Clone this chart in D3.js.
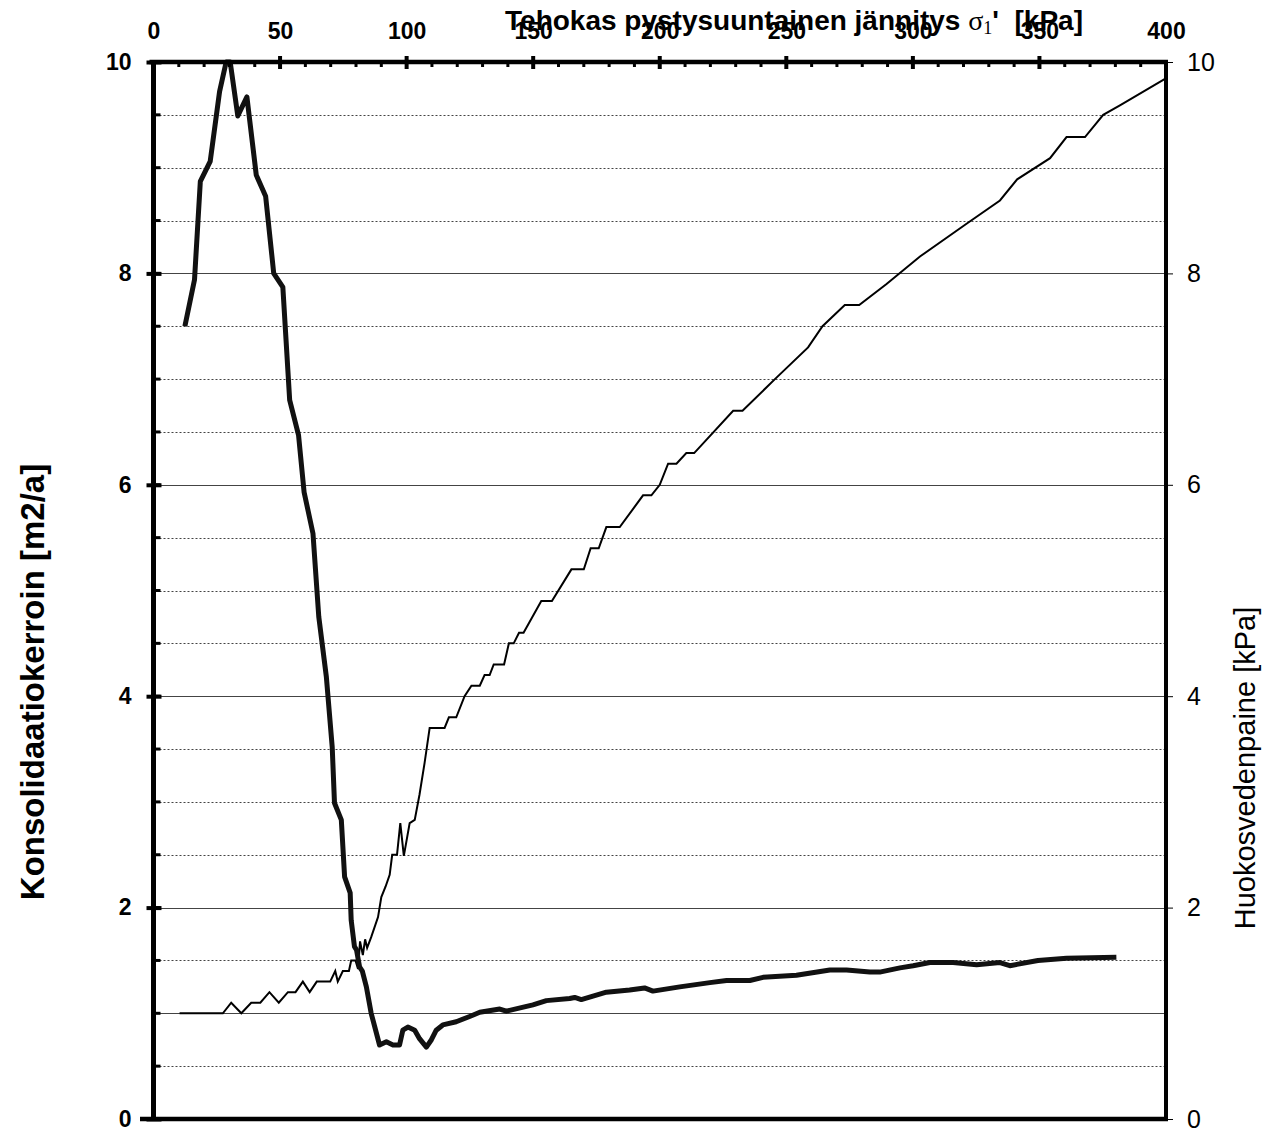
<!DOCTYPE html>
<html>
<head>
<meta charset="utf-8">
<script src="https://cdn.jsdelivr.net/npm/d3@7"></script>
<style>
  html, body { margin: 0; padding: 0; background: #fff; }
  svg { display: block; }
</style>
</head>
<body>
<svg id="chart" width="1270" height="1133"></svg>
<script>
// ---- data ----
const xTickValues = [0, 50, 100, 150, 200, 250, 300, 350, 400];
const yTickValues = [0, 2, 4, 6, 8, 10];
const solidGridValues = [1, 2, 4, 6, 8];

// Konsolidaatiokerroin (thick line)
const cvStress = [12.4, 16.2, 18.5, 22.4, 26.1, 28.7, 30.3, 33.3, 36.9, 40.6, 44.3, 47.5, 51.1, 53.8, 57.3, 59.5, 63, 65.3, 68.3, 70.6, 71.5, 74.2, 75.5, 77.7, 78.1, 79.4, 80.2, 81.4, 82.5, 84.1, 86, 89.3, 92, 94.6, 97.2, 98.5, 100.5, 103.2, 105.1, 107.8, 109.8, 111.7, 114.3, 119.6, 124.9, 128.9, 136.8, 139.4, 149.9, 155.2, 164.4, 166.4, 169, 178.9, 188.1, 194, 197.3, 207.9, 219.8, 226.4, 235.6, 240.8, 254, 267.2, 273.8, 283, 286.9, 294.9, 300.1, 306.7, 315.9, 325.2, 334.4, 338.3, 349.4, 360.7, 380.4];
const cvValues = [7.50, 7.94, 8.87, 9.06, 9.72, 10.0, 10.0, 9.49, 9.67, 8.93, 8.73, 8.0, 7.87, 6.80, 6.47, 5.93, 5.54, 4.75, 4.18, 3.52, 2.99, 2.83, 2.29, 2.14, 1.88, 1.63, 1.60, 1.44, 1.40, 1.25, 1.0, 0.70, 0.73, 0.70, 0.70, 0.84, 0.87, 0.84, 0.76, 0.68, 0.75, 0.84, 0.89, 0.92, 0.97, 1.01, 1.04, 1.02, 1.08, 1.12, 1.14, 1.15, 1.13, 1.20, 1.22, 1.24, 1.21, 1.25, 1.29, 1.31, 1.31, 1.34, 1.36, 1.41, 1.41, 1.39, 1.39, 1.43, 1.45, 1.48, 1.48, 1.46, 1.48, 1.45, 1.50, 1.52, 1.53];

// Huokosvedenpaine (thin line)
const uStress = [10.3, 27.4, 30.7, 34.7, 38.6, 42.2, 45.8, 49.5, 53.1, 56.1, 59, 61.7, 64.5, 69.8, 71.8, 72.8, 74.8, 77.2, 78.1, 79.8, 80.8, 81.6, 82.7, 83.6, 84.4, 86, 88.7, 90, 91.7, 93.3, 94.3, 96.2, 97.5, 98.9, 101.2, 103.2, 105.1, 107.1, 109.1, 115, 116.7, 119.6, 122.9, 125.6, 128.9, 130.8, 132.8, 134.4, 138.5, 140.4, 142.3, 144.4, 146.2, 153.2, 157.4, 165.1, 170, 172.7, 175.9, 178.9, 184.2, 193.4, 196.7, 200, 203.3, 206.6, 210.5, 213.6, 229, 232.7, 245.5, 258.6, 264.3, 273.1, 278.8, 289.6, 302.8, 321.2, 334.4, 341.2, 354.2, 360.7, 368, 375.2, 381.8, 399.6];
const uValues = [1.0, 1.0, 1.1, 1.0, 1.1, 1.1, 1.2, 1.1, 1.2, 1.2, 1.3, 1.2, 1.3, 1.3, 1.4, 1.3, 1.4, 1.4, 1.5, 1.5, 1.42, 1.68, 1.55, 1.7, 1.62, 1.72, 1.91, 2.10, 2.20, 2.31, 2.50, 2.50, 2.80, 2.49, 2.80, 2.83, 3.07, 3.37, 3.70, 3.70, 3.80, 3.80, 4.0, 4.1, 4.1, 4.2, 4.2, 4.3, 4.3, 4.5, 4.5, 4.6, 4.6, 4.9, 4.9, 5.2, 5.2, 5.4, 5.4, 5.6, 5.6, 5.9, 5.9, 6.0, 6.2, 6.2, 6.3, 6.3, 6.7, 6.7, 7.0, 7.3, 7.5, 7.7, 7.7, 7.9, 8.16, 8.47, 8.69, 8.89, 9.09, 9.29, 9.29, 9.50, 9.59, 9.84];

const topTitle = "Tehokas pystysuuntainen jännitys ";
const leftTitle = "Konsolidaatiokerroin [m2/a]";
const rightTitle = "Huokosvedenpaine [kPa]";

// ---- chart ----
(function draw() {
const svg = d3.select("#chart");
const pLeft = 153.5, pRight = 1166, pTop = 62, pBottom = 1119;
const x = d3.scaleLinear().domain([0, 400]).range([pLeft, pRight]);
const yL = d3.scaleLinear().domain([0, 10]).range([pBottom, pTop]);
const yR = d3.scaleLinear().domain([0, 10]).range([pBottom, pTop]);
const sans = "'Liberation Sans', Arial, sans-serif";
const serif = "'Liberation Serif', 'Times New Roman', serif";

// grid lines every 0.5
const gridVals = d3.range(0.5, 10, 0.5);
svg.append("g").selectAll("line").data(gridVals).join("line")
  .attr("x1", pLeft + 2).attr("x2", pRight - 2)
  .attr("y1", d => Math.round(yL(d)) + 0.5).attr("y2", d => Math.round(yL(d)) + 0.5)
  .attr("stroke", "#444")
  .attr("stroke-width", d => solidGridValues.includes(d) ? 1.2 : 1)
  .attr("stroke-dasharray", d => solidGridValues.includes(d) ? null : "2,2");

// series lines
const line = d3.line().x(d => x(d[0])).y(d => d[2](d[1])).curve(d3.curveLinear);
const uData = uStress.map((s, i) => [s, uValues[i], yR]);
const cvData = cvStress.map((s, i) => [s, cvValues[i], yL]);

svg.append("path").datum(uData).attr("d", line)
  .attr("fill", "none").attr("stroke", "#000").attr("stroke-width", 2)
  .attr("stroke-linejoin", "miter");
svg.append("path").datum(cvData).attr("d", line)
  .attr("fill", "none").attr("stroke", "#111").attr("stroke-width", 5)
  .attr("stroke-linejoin", "round");

// bottom axis line
svg.append("line").attr("x1", 140).attr("x2", pRight + 2)
  .attr("y1", pBottom).attr("y2", pBottom).attr("stroke", "#000").attr("stroke-width", 4.5);

// right axis
const rightAxis = d3.axisRight(yR).tickValues(yTickValues).tickSize(7).tickPadding(14)
  .tickFormat(d3.format("d"));
const gR = svg.append("g").attr("transform", `translate(${pRight},0)`).call(rightAxis);
gR.select(".domain").remove();
gR.selectAll(".tick line").attr("stroke", "#000").attr("stroke-width", 1);
gR.selectAll(".tick text").attr("font-family", sans).attr("font-size", 25).attr("fill", "#000");
svg.append("line").attr("x1", pRight).attr("x2", pRight).attr("y1", pTop - 2).attr("y2", pBottom + 2)
  .attr("stroke", "#000").attr("stroke-width", 4);

// left axis
const leftAxis = d3.axisLeft(yL).tickValues(yTickValues).tickSize(7).tickPadding(15)
  .tickFormat(d3.format("d"));
const gL = svg.append("g").attr("transform", `translate(${pLeft},0)`).call(leftAxis);
gL.select(".domain").remove();
gL.selectAll(".tick line").attr("stroke", "#000").attr("stroke-width", 4).attr("x2", -7).attr("x1", 8);
gL.selectAll(".tick text").attr("font-family", sans).attr("font-weight", "bold")
  .attr("font-size", 23).attr("fill", "#000");
// minor ticks left
svg.append("g").selectAll("line").data(gridVals).join("line")
  .attr("x1", pLeft).attr("x2", pLeft + 7)
  .attr("y1", d => yL(d)).attr("y2", d => yL(d))
  .attr("stroke", "#000").attr("stroke-width", 3);
svg.append("line").attr("x1", pLeft).attr("x2", pLeft).attr("y1", pTop - 2).attr("y2", pBottom + 2)
  .attr("stroke", "#000").attr("stroke-width", 5);

// top axis
const topAxis = d3.axisTop(x).tickValues(xTickValues).tickSize(0).tickPadding(23)
  .tickFormat(d3.format("d"));
const gT = svg.append("g").attr("transform", `translate(0,${pTop})`).call(topAxis);
gT.select(".domain").remove();
gT.selectAll(".tick text").attr("font-family", sans).attr("font-weight", "bold")
  .attr("font-size", 23).attr("fill", "#000");
svg.append("line").attr("x1", pLeft - 4).attr("x2", pRight + 2).attr("y1", pTop).attr("y2", pTop)
  .attr("stroke", "#000").attr("stroke-width", 4.5);
// major ticks top
svg.append("g").selectAll("line").data(xTickValues.slice(1, -1)).join("line")
  .attr("x1", d => x(d)).attr("x2", d => x(d)).attr("y1", pTop - 6).attr("y2", pTop + 7)
  .attr("stroke", "#000").attr("stroke-width", 4);
// minor ticks top
const minorX = d3.range(10, 400, 10).filter(v => v % 50 !== 0);
svg.append("g").selectAll("line").data(minorX).join("line")
  .attr("x1", d => x(d)).attr("x2", d => x(d)).attr("y1", pTop).attr("y2", pTop + 5)
  .attr("stroke", "#000").attr("stroke-width", 3);

// titles
const tt = svg.append("text").attr("x", 794).attr("y", 30).attr("text-anchor", "middle")
  .attr("font-family", sans).attr("font-weight", "bold").attr("font-size", 28).attr("fill", "#000");
tt.append("tspan").text(topTitle);
tt.append("tspan").attr("font-family", serif).attr("font-weight", "normal").text("σ");
tt.append("tspan").attr("font-family", serif).attr("font-weight", "normal").attr("font-size", 18)
  .attr("dy", 4).text("1");
tt.append("tspan").attr("dy", -4).text("'\u00a0\u00a0[kPa]");

svg.append("text").attr("transform", "translate(44,682) rotate(-90)")
  .attr("text-anchor", "middle").attr("font-family", sans).attr("font-weight", "bold")
  .attr("font-size", 33).attr("fill", "#000").text(leftTitle);

svg.append("text").attr("transform", "translate(1255,768) rotate(-90)")
  .attr("text-anchor", "middle").attr("font-family", sans)
  .attr("font-size", 29).attr("fill", "#000").text(rightTitle);
})();
</script>
</body>
</html>
